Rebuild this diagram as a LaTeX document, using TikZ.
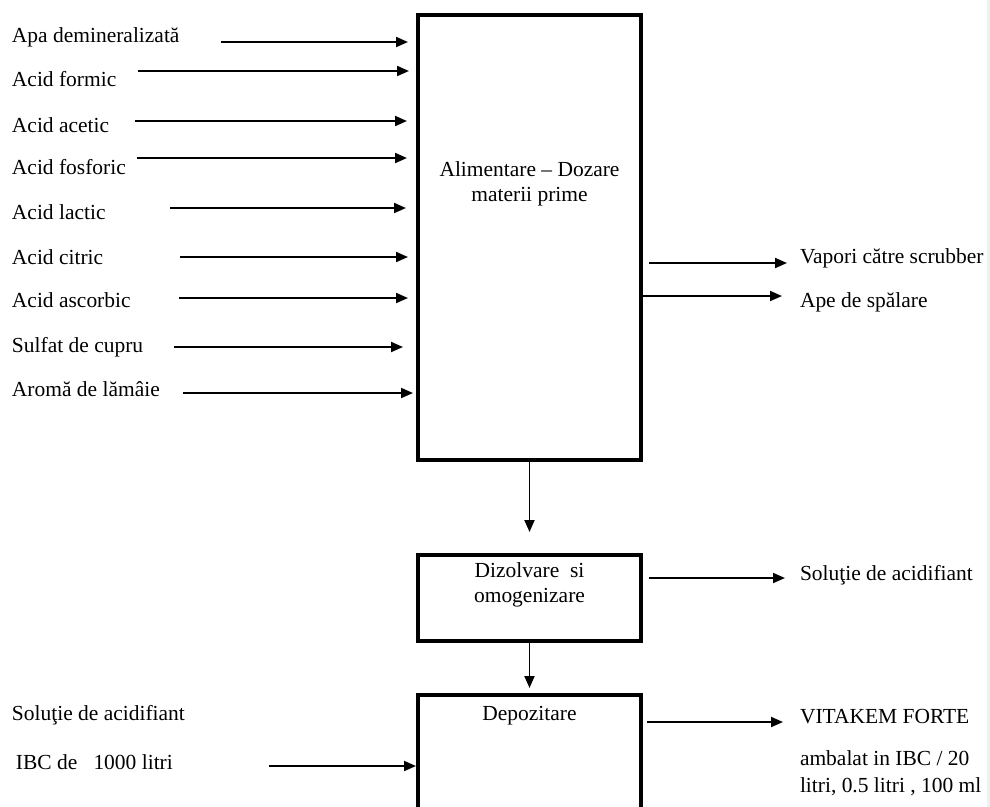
\documentclass[tikz,border=0pt]{standalone}
\usepackage{fontspec}
\setmainfont{Liberation Serif}
\usetikzlibrary{arrows.meta}
\begin{document}
\begin{tikzpicture}[x=0.75pt,y=-0.75pt,
  every node/.style={font=\fontsize{16.1}{18.75}\selectfont, inner sep=0pt, outer sep=0pt},
  procbox/.style={draw, line width=3.2pt, minimum width=167.25pt},
  lbl/.style={anchor=west, align=left},
  flow/.style={line width=1.45pt, -{Triangle[length=9pt,width=7.5pt]}},
]
\clip (0,0) rectangle (990,807);
\fill[black!6] (987,0) rectangle (990,807);

% process blocks
\node[procbox, minimum height=333.75pt] (feed) at (529.5,237.5) {};
\node[align=center] (feedtxt) at (529.5,183.5) {Alimentare – Dozare\\materii prime};
\node[procbox, minimum height=64.5pt] (mix) at (529.5,598) {};
\node[align=center] (mixtxt) at (529.5,585) {Dizolvare\ \ si\\omogenizare};
\node[procbox, minimum height=112.5pt] (store) at (529.5,770) {};
\node (storetxt) at (529.5,716) {Depozitare};

% raw materials
\node[lbl] (apa) at (12,37) {Apa demineralizată};
\node[lbl] (formic) at (12,79) {Acid formic};
\node[lbl] (acetic) at (12,125) {Acid acetic};
\node[lbl] (fosf) at (12,167) {Acid fosforic};
\node[lbl] (lactic) at (12,212) {Acid lactic};
\node[lbl] (citric) at (12,257) {Acid citric};
\node[lbl] (ascorb) at (12,300) {Acid ascorbic};
\node[lbl] (sulfat) at (12,347) {Sulfat de cupru};
\node[lbl] (aroma) at (12,389) {Aromă de lămâie};

\coordinate (apa-s) at (221,42);
\coordinate (formic-s) at (138,71);
\coordinate (acetic-s) at (135,121);
\coordinate (fosf-s) at (137,158);
\coordinate (lactic-s) at (170,208);
\coordinate (citric-s) at (180,257);
\coordinate (ascorb-s) at (179,298);
\coordinate (sulfat-s) at (174,347);
\coordinate (aroma-s) at (183,393);

\draw[flow, shorten >=7.5pt] (apa-s) -- (feed.west |- apa-s);
\draw[flow, shorten >=6.75pt] (formic-s) -- (feed.west |- formic-s);
\draw[flow, shorten >=8.25pt] (acetic-s) -- (feed.west |- acetic-s);
\draw[flow, shorten >=8.25pt] (fosf-s) -- (feed.west |- fosf-s);
\draw[flow, shorten >=9pt] (lactic-s) -- (feed.west |- lactic-s);
\draw[flow, shorten >=7.5pt] (citric-s) -- (feed.west |- citric-s);
\draw[flow, shorten >=7.5pt] (ascorb-s) -- (feed.west |- ascorb-s);
\draw[flow, shorten >=11.25pt] (sulfat-s) -- (feed.west |- sulfat-s);
\draw[flow, shorten >=3.75pt] (aroma-s) -- (feed.west |- aroma-s);

% outputs
\node[lbl] (vap) at (800,258) {Vapori către scrubber};
\node[lbl] (ape) at (800,302) {Ape de spălare};
\node[lbl] (sol) at (800,575) {Soluţie de acidifiant};
\node[lbl] (vit) at (800,717) {VITAKEM FORTE};
\node[lbl, font=\fontsize{16.1}{20.25}\selectfont] (amb) at (800,773.5) {ambalat in IBC / 20\\litri, 0.5 litri , 100 ml};

\coordinate (vap-y) at (0,263);
\coordinate (ape-y) at (0,296);
\coordinate (sol-y) at (0,578);
\coordinate (vit-y) at (0,722);

\draw[flow, shorten <=6pt, shorten >=9.75pt] (feed.east |- vap-y) -- (vap.west |- vap-y);
\draw[flow, shorten >=13.5pt] (feed.east |- ape-y) -- (ape.west |- ape-y);
\draw[flow, shorten <=6pt, shorten >=11.25pt] (mix.east |- sol-y) -- (sol.west |- sol-y);
\draw[flow, shorten <=4.5pt, shorten >=12.75pt] (store.east |- vit-y) -- (vit.west |- vit-y);

% process chain
\draw[flow, shorten >=17.25pt] (feed.south) -- (mix.north);
\draw[flow, shorten >=5.25pt] (mix.south) -- (store.north);

% delivered solution
\node[lbl] (solin) at (12,715) {Soluţie de acidifiant};
\node[lbl] (ibc) at (16,762) {IBC de\ \ \ 1000 litri};
\coordinate (ibc-s) at (269,766);
\draw[flow, shorten >=1.5pt] (ibc-s) -- (store.west |- ibc-s);
\end{tikzpicture}
\end{document}
